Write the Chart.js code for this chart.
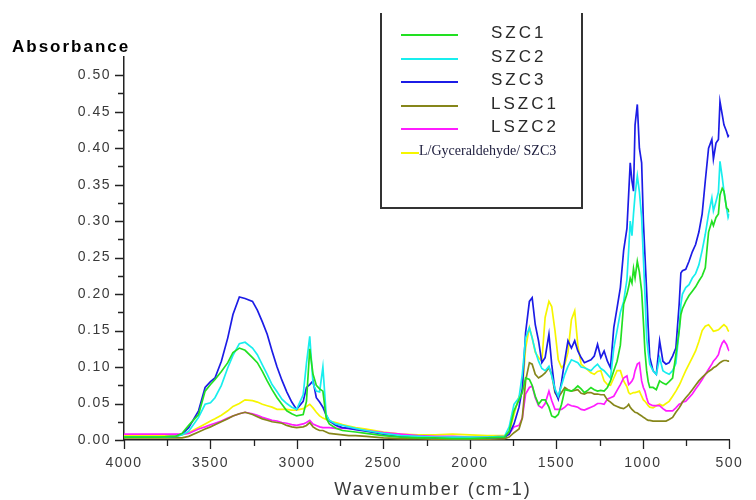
<!DOCTYPE html>
<html>
<head>
<meta charset="utf-8">
<script src="https://cdn.jsdelivr.net/npm/chart.js@4.4.1/dist/chart.umd.min.js"></script>
<style>
  html, body { margin: 0; padding: 0; background: #fff; }
  #wrap { position: relative; width: 756px; height: 500px; overflow: hidden; }
  canvas { position: absolute; left: 0; top: 0; }
  #ylab { position: absolute; left: 12px; top: 37px; font: bold 17px "Liberation Sans", Arial, sans-serif; letter-spacing: 2px; color: #000; }
  #xlab { position: absolute; left: 233px; width: 400px; text-align: center; top: 479px; font: 18px "Liberation Sans", Arial, sans-serif; letter-spacing: 2px; color: #3a3a3a; }
  #legend { position: absolute; left: 380px; top: 13px; width: 199px; height: 194px; border-left: 2px solid #333; border-right: 2px solid #333; border-bottom: 2px solid #333; }
  .item { position: absolute; left: 0; height: 20px; }
  .swatch { position: absolute; left: 19px; width: 57px; height: 2px; }
  .name { position: absolute; left: 109px; top: -11px; font: 17px "Liberation Sans", Arial, sans-serif; letter-spacing: 3px; color: #2a2a2a; white-space: nowrap; }
  .name.serif { left: 37px; top: -9px; font: 14px "Liberation Serif", "Times New Roman", serif; letter-spacing: 0; color: #1c1c3c; }
</style>
</head>
<body>
<div id="wrap">
  <canvas id="c" width="756" height="500"></canvas>
  <div id="ylab">Absorbance</div>
  <div id="xlab">Wavenumber (cm-1)</div>
  <div id="legend"></div>
</div>
<script>
// ---- data ----
const wavenumbers = [
  4000, 3800, 3700, 3665, 3626, 3569, 3531, 3500, 3474, 3437,
  3400, 3370, 3333, 3300, 3257, 3229, 3200, 3172, 3144, 3115,
  3087, 3059, 3030, 3002, 2964, 2945, 2926, 2907, 2888, 2869,
  2850, 2831, 2813, 2775, 2737, 2700, 2661, 2600, 2500, 2400,
  2300, 2200, 2100, 2000, 1900, 1800, 1773, 1745, 1716, 1697,
  1678, 1656, 1640, 1622, 1603, 1584, 1565, 1543, 1527, 1508,
  1489, 1470, 1451, 1433, 1413, 1394, 1376, 1357, 1338, 1319,
  1300, 1281, 1262, 1243, 1224, 1205, 1187, 1168, 1149, 1130,
  1111, 1092, 1082, 1073, 1063, 1054, 1045, 1032, 1020, 1007,
  997, 988, 978, 969, 960, 941, 922, 903, 884, 866,
  848, 828, 809, 790, 780, 771, 752, 733, 714, 695,
  676, 657, 639, 620, 601, 592, 577, 563, 554, 541,
  531, 516, 507, 500
];
const szc1 = [
  .004, .004, .005, .009, .020, .035, .067, .076, .083, .094,
  .106, .120, .126, .123, .113, .106, .094, .081, .069, .058,
  .049, .040, .036, .033, .035, .053, .125, .090, .075, .070,
  .067, .030, .022, .016, .013, .012, .011, .009, .006, .004,
  .003, .003, .002, .002, .003, .004, .012, .040, .055, .065,
  .085, .083, .075, .060, .049, .055, .055, .045, .033, .031,
  .035, .049, .069, .068, .067, .070, .074, .070, .065, .068,
  .072, .069, .067, .068, .067, .072, .081, .095, .108, .130,
  .186, .200, .210, .222, .215, .235, .222, .245, .230, .204,
  .163, .122, .095, .080, .072, .072, .069, .081, .078, .076,
  .080, .085, .117, .150, .172, .180, .190, .198, .204, .210,
  .218, .225, .236, .285, .300, .294, .305, .310, .336, .345,
  .341, .318, .316, .312
];
const szc2 = [
  .004, .004, .005, .007, .012, .031, .049, .051, .058, .075,
  .099, .116, .132, .134, .126, .117, .103, .090, .076, .066,
  .056, .050, .045, .042, .062, .105, .142, .077, .067, .066,
  .100, .035, .027, .022, .020, .018, .016, .013, .009, .006,
  .005, .004, .004, .004, .004, .005, .018, .049, .058, .090,
  .140, .154, .140, .122, .108, .098, .095, .101, .088, .070,
  .060, .075, .090, .101, .110, .108, .106, .100, .099, .097,
  .095, .100, .104, .098, .095, .090, .085, .126, .150, .175,
  .190, .220, .260, .300, .280, .310, .336, .362, .340, .305,
  .250, .200, .140, .120, .104, .095, .090, .113, .095, .092,
  .090, .095, .105, .150, .186, .200, .209, .213, .222, .228,
  .240, .260, .282, .310, .332, .314, .327, .340, .382, .360,
  .341, .318, .305, .310
];
const szc3 = [
  .004, .004, .005, .008, .017, .040, .072, .080, .085, .108,
  .140, .172, .196, .194, .190, .178, .162, .145, .122, .100,
  .082, .066, .052, .042, .053, .072, .076, .081, .058, .052,
  .045, .034, .026, .020, .017, .016, .014, .012, .008, .005,
  .004, .003, .003, .003, .003, .004, .008, .022, .045, .070,
  .147, .190, .195, .158, .136, .106, .113, .145, .104, .067,
  .056, .080, .110, .136, .126, .136, .122, .113, .106, .108,
  .110, .115, .131, .113, .122, .108, .099, .154, .181, .209,
  .260, .290, .337, .380, .355, .341, .432, .460, .400, .380,
  .300, .254, .204, .154, .113, .095, .090, .136, .108, .104,
  .106, .115, .126, .186, .229, .232, .234, .245, .258, .268,
  .285, .310, .355, .400, .412, .385, .407, .412, .464, .446,
  .432, .423, .416, .418
];
const lszc1 = [
  .003, .003, .003, .003, .005, .011, .015, .018, .021, .025,
  .029, .033, .036, .038, .035, .032, .029, .027, .025, .024,
  .023, .020, .018, .017, .018, .020, .024, .018, .015, .013,
  .013, .011, .009, .008, .007, .006, .006, .005, .003, .002,
  .002, .001, .001, .001, .001, .002, .004, .010, .015, .030,
  .081, .106, .104, .090, .085, .088, .092, .099, .090, .065,
  .058, .065, .072, .069, .067, .068, .069, .064, .063, .065,
  .065, .063, .063, .062, .062, .055, .052, .048, .046, .044,
  .043, .046, .049, .045, .042, .040, .038, .037, .035, .033,
  .031, .030, .028, .027, .027, .026, .026, .026, .026, .026,
  .028, .031, .038, .044, .048, .052, .058, .063, .069, .075,
  .081, .086, .090, .094, .097, .099, .101, .104, .106, .108,
  .109, .109, .108, .108
];
const lszc2 = [
  .008, .008, .008, .008, .009, .015, .018, .021, .023, .026,
  .030, .033, .036, .038, .036, .034, .031, .029, .027, .026,
  .024, .023, .021, .020, .022, .024, .027, .022, .020, .018,
  .017, .017, .017, .016, .016, .016, .015, .013, .010, .008,
  .006, .005, .005, .004, .004, .005, .008, .018, .020, .030,
  .063, .072, .074, .058, .047, .044, .050, .067, .054, .042,
  .042, .042, .045, .049, .047, .046, .045, .042, .041, .043,
  .045, .047, .050, .050, .049, .056, .058, .060, .068, .076,
  .085, .088, .076, .078, .081, .085, .095, .104, .106, .081,
  .072, .067, .058, .051, .049, .047, .047, .047, .043, .040,
  .040, .040, .044, .049, .050, .052, .053, .058, .063, .070,
  .076, .083, .090, .097, .104, .108, .112, .117, .125, .133,
  .136, .131, .125, .122
];
const glyceraldehydeSzc3 = [
  .006, .006, .006, .007, .010, .017, .022, .026, .029, .034,
  .040, .046, .050, .055, .054, .052, .049, .047, .045, .042,
  .042, .042, .041, .041, .043, .046, .049, .044, .038, .033,
  .030, .028, .026, .024, .021, .019, .017, .015, .011, .008,
  .007, .007, .008, .007, .006, .006, .010, .035, .060, .067,
  .126, .154, .140, .120, .113, .108, .168, .190, .183, .150,
  .110, .099, .104, .120, .165, .177, .130, .104, .100, .096,
  .092, .090, .094, .095, .081, .076, .075, .085, .095, .095,
  .081, .073, .065, .063, .064, .065, .065, .066, .067, .060,
  .055, .053, .050, .047, .045, .044, .047, .049, .047, .050,
  .053, .060, .067, .075, .080, .085, .095, .104, .113, .122,
  .135, .150, .156, .158, .152, .149, .150, .151, .153, .156,
  .158, .155, .150, .149
];
const seriesNames = ['SZC1', 'SZC2', 'SZC3', 'LSZC1', 'LSZC2', 'L/Gyceraldehyde/ SZC3'];
const seriesValues = [szc1, szc2, szc3, lszc1, lszc2, glyceraldehydeSzc3];
const seriesColors = ['#22e022', '#18eeee', '#1c1ce6', '#86861a', '#ff1cff', '#f6f600'];
const yTickValues = [0, 0.05, 0.10, 0.15, 0.20, 0.25, 0.30, 0.35, 0.40, 0.45, 0.50];
const xTickValues = [4000, 3500, 3000, 2500, 2000, 1500, 1000, 500];

// ---- legend (html text) ----
const legendEl = document.getElementById('legend');
const legendTops = [21, 45, 68, 92, 115, 139];
seriesNames.forEach((name, i) => {
  const it = document.createElement('div');
  it.className = 'item';
  it.style.top = legendTops[i] + 'px';
  const sw = document.createElement('div');
  sw.className = 'swatch';
  sw.style.background = seriesColors[i];
  if (i === 5) sw.style.width = '18px';
  const nm = document.createElement('span');
  nm.className = 'name' + (i === 5 ? ' serif' : '');
  nm.textContent = name;
  it.appendChild(sw); it.appendChild(nm);
  legendEl.appendChild(it);
});

// ---- chart ----
const datasets = seriesNames.map((name, i) => ({
  label: name,
  data: wavenumbers.map((w, j) => ({ x: w, y: seriesValues[i][j] })),
  borderColor: seriesColors[i],
  backgroundColor: seriesColors[i],
  borderWidth: 1.7,
  pointRadius: 0,
  tension: 0,
  fill: false
}));

const tickMarks = {
  id: 'tickMarks',
  beforeDraw(chart) { chart.ctx.letterSpacing = '1.5px'; },
  afterDraw(chart) {
    const ctx = chart.ctx, xs = chart.scales.x, ys = chart.scales.y;
    ctx.save();
    ctx.strokeStyle = '#222';
    ctx.lineWidth = 1.3;
    ctx.beginPath();
    for (let v = 0; v <= 0.5001; v += 0.025) {
      const p = Math.round(ys.getPixelForValue(v)) + 0.5;
      const major = Math.abs(v / 0.05 - Math.round(v / 0.05)) < 1e-6;
      ctx.moveTo(ys.right, p); ctx.lineTo(ys.right - (major ? 9 : 6), p);
    }
    for (let w = 500; w <= 4000; w += 250) {
      const p = Math.round(xs.getPixelForValue(w)) + 0.5;
      const major = w % 500 === 0;
      ctx.moveTo(p, xs.top); ctx.lineTo(p, xs.top + (major ? 9 : 6));
    }
    ctx.stroke();
    ctx.restore();
  }
};

new Chart(document.getElementById('c'), {
  type: 'line',
  data: { datasets },
  plugins: [tickMarks],
  options: {
    responsive: false,
    animation: false,
    layout: { padding: { left: 0, top: 57, right: 15, bottom: 0 } },
    plugins: { legend: { display: false }, tooltip: { enabled: false } },
    scales: {
      x: {
        type: 'linear', reverse: true, min: 500, max: 4000,
        afterBuildTicks: s => { s.ticks = xTickValues.map(v => ({ value: v })); },
        afterFit: s => { s.height = 60; },
        grid: { display: false, drawTicks: false },
        border: { display: true, color: '#222', width: 1.5 },
        ticks: { padding: 15, color: '#3a3a3a', font: { family: 'Liberation Sans', size: 14 }, maxRotation: 0, callback: v => String(v) }
      },
      y: {
        type: 'linear', min: 0, max: 0.525,
        afterBuildTicks: s => { s.ticks = yTickValues.map(v => ({ value: v })); },
        afterFit: s => { s.width = 124; },
        grid: { display: false, drawTicks: false },
        border: { display: true, color: '#222', width: 1.5 },
        ticks: { padding: 13, color: '#3a3a3a', font: { family: 'Liberation Sans', size: 14 }, callback: v => v.toFixed(2) }
      }
    }
  }
});
</script>
</body>
</html>
